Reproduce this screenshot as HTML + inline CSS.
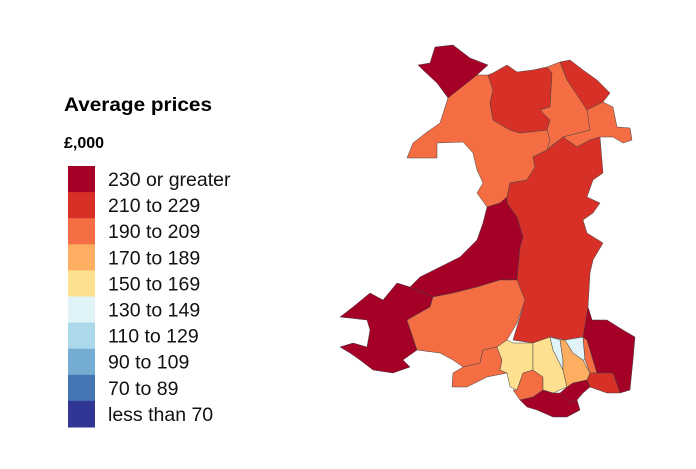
<!DOCTYPE html>
<html><head><meta charset="utf-8"><style>
body{margin:0;background:#fff;width:696px;height:464px;overflow:hidden;font-family:"Liberation Sans",Arial,sans-serif}
</style></head><body>
<svg id="chart" width="696" height="464">
<text x="64" y="111" font-size="19" font-weight="bold" fill="#000" textLength="148" lengthAdjust="spacingAndGlyphs">Average prices</text>
<text x="64" y="148" font-size="16" font-weight="bold" fill="#000">£,000</text>
<g id="legend"></g>
<g id="map" stroke="#444" stroke-width="0.5" stroke-linejoin="round"></g>
</svg>
<script>
const legendLabels=["230 or greater","210 to 229","190 to 209","170 to 189","150 to 169","130 to 149","110 to 129","90 to 109","70 to 89","less than 70"];
const legendColors=["#a50026","#d73027","#f46d43","#fdae61","#fee090","#e0f3f8","#abd9e9","#74add1","#4575b4","#313695"];
const thresholds=[230,210,190,170,150,130,110,90,70];
const regionNames=["anglesey","gwynedd","conwy","denbighshire","flintshire","wrexham","powys","ceredigion","pembrokeshire","carmarthenshire","swansea","neath-port-talbot","bridgend","rhondda-cynon-taf","merthyr-tydfil","caerphilly","blaenau-gwent","torfaen","monmouthshire","newport","cardiff","vale-of-glamorgan"];
const regionValues=[240,200,220,195,215,198,222,245,235,192,196,158,194,160,140,175,135,200,290,215,250,280];
const shapes={
anglesey:"418,65 430,63 435,47 453,45 470,58 488,65 477,75 460,90 448,98 437,83 423,70",
gwynedd:"448,98 477,75 488,75 493,90 490,103 493,120 510,130 520,133 547,130 550,140 547,150 533,157 535,167 527,180 510,183 507,197 500,203 487,207 477,193 483,183 477,170 473,153 463,142 437,143 437,158 420,158 407,158 413,143 427,132 440,123",
conwy:"488,75 493,73 507,65 517,72 533,70 547,67 552,73 550,107 540,110 550,120 547,130 520,133 510,130 493,120 490,103 493,90",
denbighshire:"547,67 560,62 567,80 587,107 590,130 563,137 550,147 547,150 550,140 547,130 550,120 540,110 550,107 552,73",
flintshire:"560,62 570,60 583,70 597,80 610,93 603,102 587,110 567,80",
wrexham:"587,110 603,102 613,107 617,127 630,128 632,140 623,143 613,137 600,137 590,140 577,147 563,137 590,130",
powys:"533,157 547,150 563,137 577,147 590,140 600,137 603,173 593,180 587,197 600,203 593,213 583,220 587,233 603,243 593,260 590,273 588,307 592,320 583,337 565,340 550,337 533,343 513,340 523,307 517,280 520,247 523,237 517,217 507,203 507,197 510,183 527,180 535,167",
ceredigion:"487,207 500,203 507,197 507,203 517,217 523,237 520,247 517,280 500,280 477,287 453,293 433,297 410,287 420,277 440,267 460,257 477,240 483,223",
pembrokeshire:"410,287 433,297 430,307 407,320 417,350 403,360 410,367 393,373 373,370 360,360 350,353 340,347 353,343 367,347 370,330 367,320 340,317 353,307 370,293 383,300 397,283",
carmarthenshire:"433,297 453,293 477,287 500,280 517,280 525,300 517,323 507,340 497,347 483,350 480,363 463,367 453,360 440,353 417,350 407,320 430,307",
swansea:"483,350 497,347 502,360 500,370 507,373 487,377 467,387 452,387 453,373 463,367 480,363",
"neath-port-talbot":"497,347 507,340 513,343 533,343 533,370 523,373 517,390 510,387 507,373 500,370 502,360",
bridgend:"523,373 533,370 543,377 543,390 533,397 520,400 513,390 517,390",
"rhondda-cynon-taf":"533,343 550,337 553,350 563,370 567,387 553,393 543,390 543,377 533,370",
"merthyr-tydfil":"550,337 560,340 563,360 563,370 553,350",
caerphilly:"560,340 565,340 573,353 583,360 590,373 587,380 573,383 567,387 563,370 563,360",
"blaenau-gwent":"565,340 583,337 585,360 583,360 573,353",
torfaen:"583,337 587,340 593,360 597,373 590,373 585,360",
monmouthshire:"588,307 592,320 607,320 623,330 635,337 633,360 630,390 620,393 613,373 597,373 593,360 587,340 583,337",
newport:"597,373 613,373 620,393 607,393 590,387 587,380 590,373",
cardiff:"567,387 573,383 587,380 590,387 583,393 577,400 570,403 560,393",
"vale-of-glamorgan":"520,400 533,397 543,390 553,393 560,393 570,403 577,400 580,410 567,417 553,417 537,410 527,407"
};
const NS="http://www.w3.org/2000/svg";
function colorFor(v){for(let i=0;i<thresholds.length;i++){if(v>=thresholds[i])return legendColors[i];}return legendColors[legendColors.length-1];}
const lg=document.getElementById('legend');
legendLabels.forEach((lab,i)=>{
 const r=document.createElementNS(NS,'rect');
 r.setAttribute('x',68);r.setAttribute('y',166+i*26.1);r.setAttribute('width',27);r.setAttribute('height',26.6);r.setAttribute('fill',legendColors[i]);
 
 
 lg.appendChild(r);
 const t=document.createElementNS(NS,'text');
 t.setAttribute('x',108);t.setAttribute('y',186+i*26.1);t.setAttribute('font-size','19.5');t.setAttribute('fill','#111');
 t.textContent=lab;
 
 
 lg.appendChild(t);
});
const mg=document.getElementById('map');
regionNames.forEach((n,i)=>{
 const p=document.createElementNS(NS,'polygon');
 p.setAttribute('points',shapes[n]);
 p.setAttribute('fill',colorFor(regionValues[i]));
 
 
 mg.appendChild(p);
});
</script>
</body></html>
